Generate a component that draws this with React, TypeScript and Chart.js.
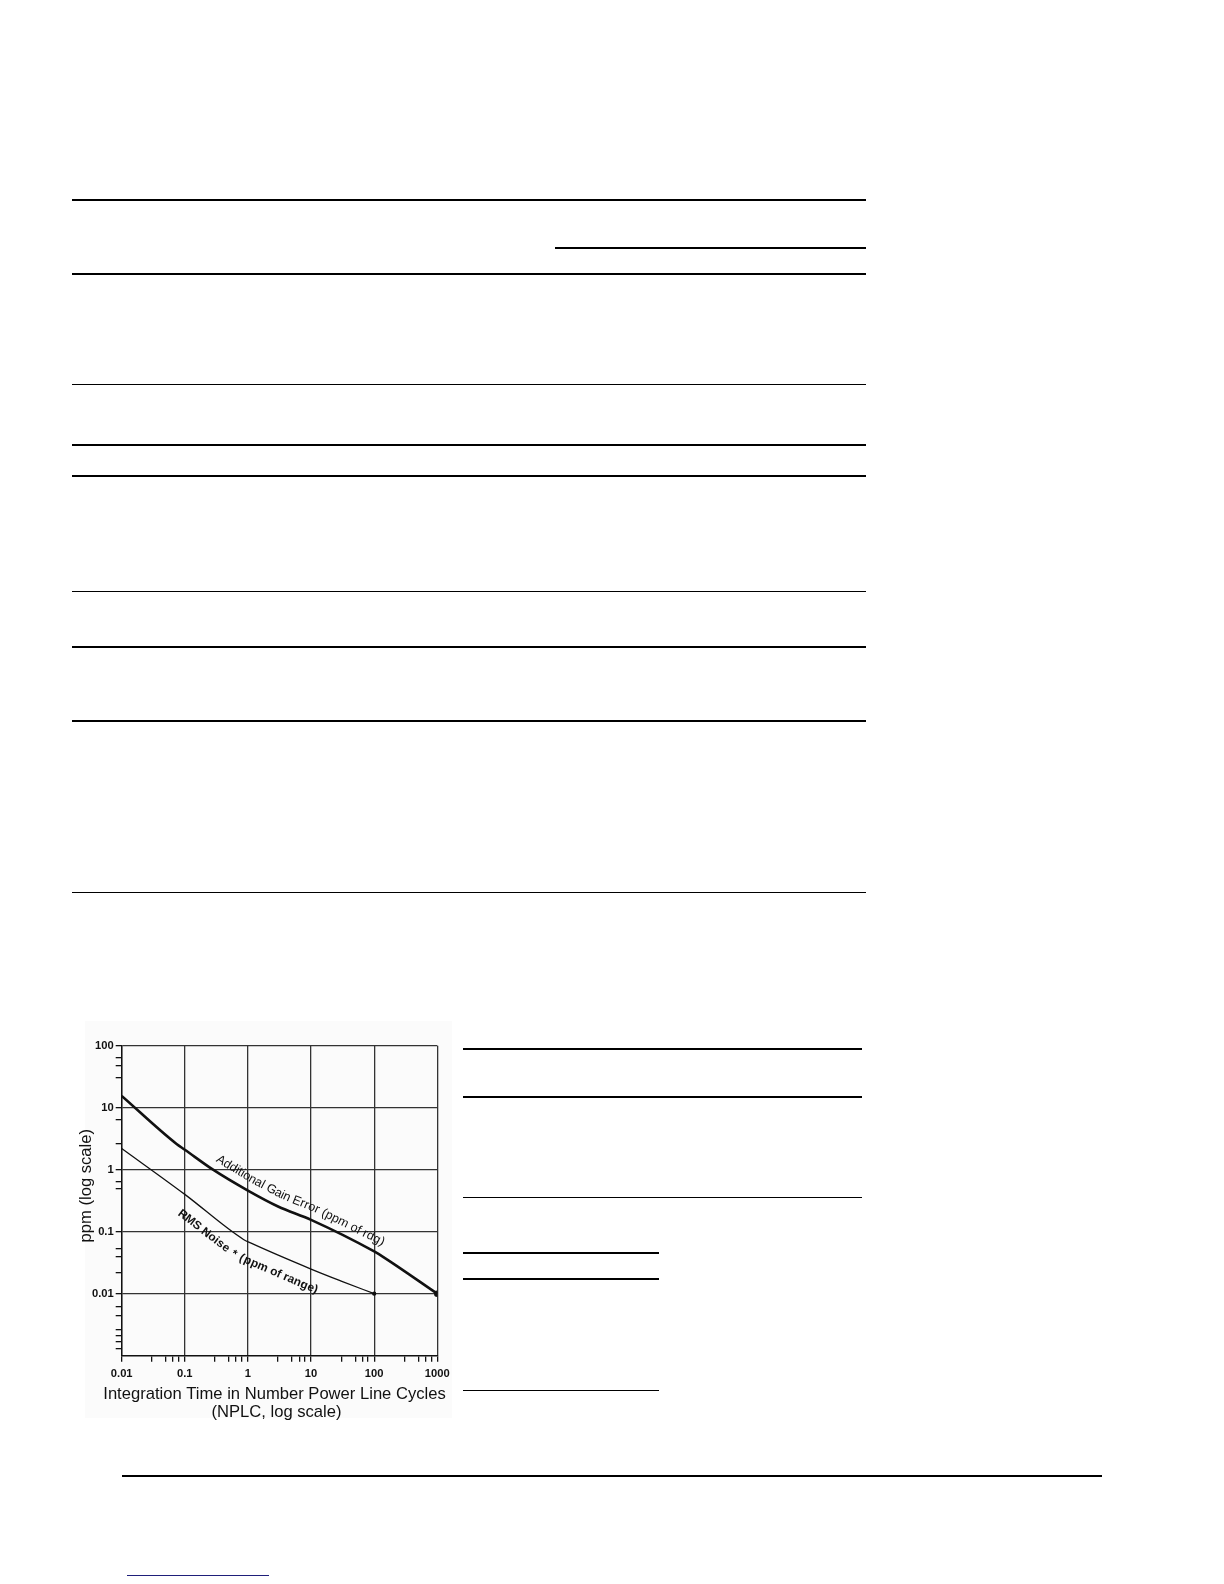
import { useEffect, useRef } from "react";
import Chart from "chart.js/auto";

// Additional gain error (ppm of reading) vs NPLC
const gainNplc = [0.01, 0.074, 0.1, 0.28, 1, 3, 10, 100, 140, 1000];
const gainPpm = [15.5, 2.6, 2.1, 1.0, 0.46, 0.255, 0.155, 0.048, 0.039, 0.01];

// RMS noise (ppm of range) vs NPLC
const noiseNplc = [0.01, 0.1, 0.85, 1.1, 10, 30, 100];
const noisePpm = [2.2, 0.4, 0.075, 0.066, 0.025, 0.016, 0.01];

const xMajorTicks = [0.01, 0.1, 1, 10, 100, 1000];
const xMinorTicks = [
  0.03, 0.05, 0.065, 0.08, 0.3, 0.5, 0.65, 0.8, 3, 5, 6.5, 8, 30, 50, 65, 80, 300, 500, 650, 800,
];
const yMajorTicks = [0.01, 0.1, 1, 10, 100];
const yMinorTicks = [
  65, 47, 30, 6.4, 2.65, 0.64, 0.49, 0.054, 0.039, 0.022, 0.0061, 0.0045, 0.0026, 0.0021, 0.0017,
  0.0013,
];

const xTitle = ["Integration Time in Number Power Line Cycles", "(NPLC, log scale)"];
const yTitle = "ppm (log scale)";
const gainLabel = "Additional Gain Error (ppm of rdg)";
const noiseLabel = "RMS Noise * (ppm of range)";

// page rules (table lines around the figure)
const pageRules = [
  { x1: 72, x2: 866, y: 200, w: 2 },
  { x1: 555, x2: 866, y: 248, w: 2 },
  { x1: 72, x2: 866, y: 274, w: 2 },
  { x1: 72, x2: 866, y: 384, w: 1 },
  { x1: 72, x2: 866, y: 445, w: 2 },
  { x1: 72, x2: 866, y: 476, w: 2 },
  { x1: 72, x2: 866, y: 591, w: 1 },
  { x1: 72, x2: 866, y: 647, w: 2 },
  { x1: 72, x2: 866, y: 721, w: 2 },
  { x1: 72, x2: 866, y: 892, w: 1 },
  { x1: 463, x2: 862, y: 1049, w: 2 },
  { x1: 463, x2: 862, y: 1097, w: 2 },
  { x1: 463, x2: 862, y: 1197.5, w: 1 },
  { x1: 463, x2: 659, y: 1253, w: 2 },
  { x1: 463, x2: 659, y: 1279, w: 2 },
  { x1: 463, x2: 659, y: 1390, w: 1 },
  { x1: 122, x2: 1102, y: 1476, w: 2.5 },
  { x1: 127, x2: 269, y: 1575, w: 1, color: "#1f1f7a" },
];

const FONT = '"Liberation Sans", Arial, Helvetica, sans-serif';

type Pt = { x: number; y: number };

const drawOnPath = (
  ctx: CanvasRenderingContext2D,
  text: string,
  pts: Pt[],
  startX: number,
  offset: number
) => {
  const segs: { x0: number; y0: number; dx: number; dy: number; len: number; start: number }[] = [];
  let total = 0;
  for (let i = 1; i < pts.length; i++) {
    const dx = pts[i].x - pts[i - 1].x;
    const dy = pts[i].y - pts[i - 1].y;
    const len = Math.hypot(dx, dy);
    segs.push({ x0: pts[i - 1].x, y0: pts[i - 1].y, dx, dy, len, start: total });
    total += len;
  }
  const at = (d: number): Pt => {
    let s = segs[0];
    for (const seg of segs) {
      s = seg;
      if (d <= seg.start + seg.len) break;
    }
    const t = (d - s.start) / s.len;
    return { x: s.x0 + s.dx * t, y: s.y0 + s.dy * t };
  };
  // distance where the path reaches startX
  let d = 0;
  for (const seg of segs) {
    if (seg.x0 + seg.dx >= startX) {
      d = seg.start + ((startX - seg.x0) / seg.dx) * seg.len;
      break;
    }
  }
  for (const ch of text) {
    const w = ctx.measureText(ch).width;
    const m = d + w / 2;
    const p = at(m);
    const a = at(m - 14);
    const b = at(m + 14);
    const ang = Math.atan2(b.y - a.y, b.x - a.x);
    ctx.save();
    ctx.translate(p.x, p.y);
    ctx.rotate(ang);
    ctx.fillText(ch, 0, offset);
    ctx.restore();
    d += w;
  }
};

const labelPlugin = {
  id: "figureText",
  afterDatasetsDraw(chart: any) {
    const { ctx, chartArea } = chart;
    const xs = chart.scales.x;
    ctx.save();
    ctx.fillStyle = "#111";
    ctx.textAlign = "center";
    ctx.textBaseline = "middle";

    ctx.font = `16.6px ${FONT}`;
    const cx = (chartArea.left + chartArea.right) / 2;
    ctx.fillText(xTitle[0], cx - 5, chartArea.bottom + 38.5);
    ctx.fillText(xTitle[1], cx - 3, chartArea.bottom + 57);

    ctx.save();
    ctx.translate(chartArea.left - 35.5, chartArea.top + 140);
    ctx.rotate(-Math.PI / 2);
    ctx.fillText(yTitle, 0, 0);
    ctx.restore();

    const gainPts = chart.getDatasetMeta(0).data.map((p: any) => ({ x: p.x, y: p.y }));
    ctx.font = `12.5px ${FONT}`;
    drawOnPath(ctx, gainLabel, gainPts, xs.getPixelForValue(0.26), -12);

    const noisePts = chart.getDatasetMeta(1).data.map((p: any) => ({ x: p.x, y: p.y }));
    ctx.font = `bold 11.8px ${FONT}`;
    drawOnPath(ctx, noiseLabel, noisePts, xs.getPixelForValue(0.12), 17.5);

    ctx.restore();
  },
};

const buildTicks = (major: number[], minor: number[]) => (scale: any) => {
  scale.ticks = [...major, ...minor].sort((a, b) => a - b).map((value) => ({ value }));
};

const NplcChart = () => {
  const chartRef = useRef<HTMLCanvasElement>(null);

  useEffect(() => {
    const ctx = chartRef.current?.getContext("2d");
    if (!ctx) return;

    const lastBig = (n: number, r: number) => (c: any) => (c.dataIndex === n - 1 ? r : 0);

    const chart = new Chart(ctx, {
      type: "line",
      data: {
        datasets: [
          {
            data: gainNplc.map((x, i) => ({ x, y: gainPpm[i] })),
            borderColor: "#111",
            backgroundColor: "#111",
            borderWidth: 2.6,
            cubicInterpolationMode: "monotone",
            pointRadius: lastBig(gainNplc.length, 2),
          },
          {
            data: noiseNplc.map((x, i) => ({ x, y: noisePpm[i] })),
            borderColor: "#111",
            backgroundColor: "#111",
            borderWidth: 1.3,
            cubicInterpolationMode: "monotone",
            pointRadius: lastBig(noiseNplc.length, 1.5),
          },
        ],
      },
      options: {
        responsive: false,
        animation: false,
        layout: { padding: { left: 0, top: 27.7, right: 20.7, bottom: 0 } },
        plugins: {
          legend: { display: false },
          tooltip: { enabled: false },
        },
        scales: {
          x: {
            type: "logarithmic",
            min: 0.01,
            max: 1000,
            afterBuildTicks: buildTicks(xMajorTicks, xMinorTicks),
            afterFit: (scale: any) => {
              scale.height = 72.3;
              scale.paddingLeft = 0;
              scale.paddingRight = 0;
            },
            ticks: {
              autoSkip: false,
              maxRotation: 0,
              padding: 5,
              color: "#111",
              font: { family: FONT, size: 11.2, weight: "bold" },
              callback: (v: any) => (xMajorTicks.includes(Number(v)) ? String(v) : ""),
            },
            grid: {
              color: (c: any) =>
                c.tick && xMajorTicks.includes(c.tick.value) ? "#333" : "rgba(0,0,0,0)",
              tickColor: "#111",
              tickLength: 6,
              lineWidth: 1.3,
            },
            border: { color: "#111", width: 1.4 },
          },
          y: {
            type: "logarithmic",
            min: 0.001,
            max: 100,
            afterBuildTicks: buildTicks(yMajorTicks, yMinorTicks),
            afterFit: (scale: any) => {
              scale.width = 43.7;
              scale.paddingTop = 0;
              scale.paddingBottom = 0;
            },
            ticks: {
              autoSkip: false,
              padding: 2,
              color: "#111",
              font: { family: FONT, size: 11.2, weight: "bold" },
              callback: (v: any) => (yMajorTicks.includes(Number(v)) ? String(v) : ""),
            },
            grid: {
              color: (c: any) =>
                c.tick && yMajorTicks.includes(c.tick.value) ? "#333" : "rgba(0,0,0,0)",
              tickColor: "#111",
              tickLength: 6,
              lineWidth: 1.3,
            },
            border: { color: "#111", width: 1.4 },
          },
        },
      } as any,
      plugins: [labelPlugin],
    });

    return () => {
      chart.destroy();
    };
  }, []);

  return (
    <div style={{ position: "absolute", left: 78, top: 1018, width: 380, height: 410 }}>
      <canvas ref={chartRef} width={380} height={410} />
    </div>
  );
};

const App = () => {
  return (
    <div
      style={{
        position: "absolute",
        left: 0,
        top: 0,
        width: 1224,
        height: 1584,
        background: "#fff",
        overflow: "hidden",
      }}
    >
      {pageRules.map((r, i) => (
        <div
          key={i}
          style={{
            position: "absolute",
            left: r.x1,
            top: r.y - r.w / 2,
            width: r.x2 - r.x1,
            height: r.w,
            background: r.color ?? "#000",
          }}
        />
      ))}
      <div
        style={{
          position: "absolute",
          left: 85,
          top: 1021,
          width: 367,
          height: 397,
          background: "#fbfbfb",
        }}
      />
      <NplcChart />
    </div>
  );
};

export default App;
